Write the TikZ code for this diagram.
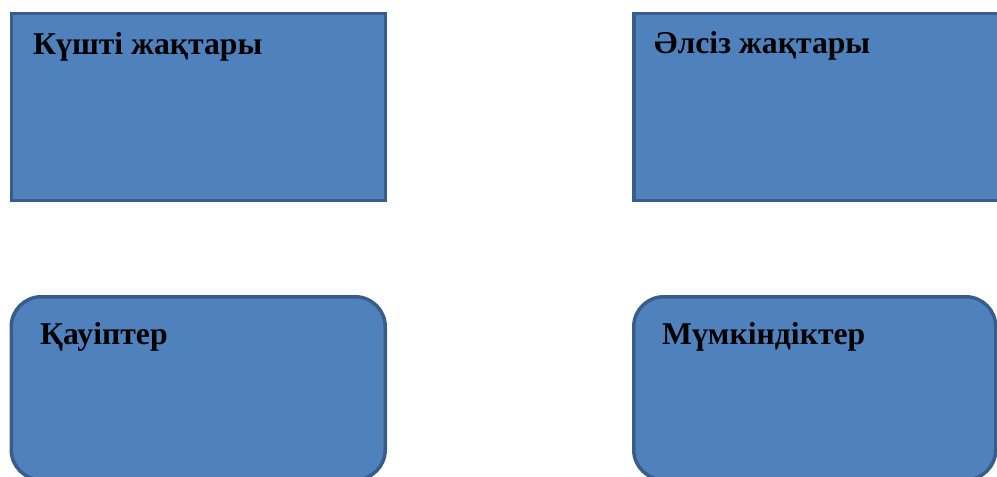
\documentclass[tikz,border=0pt]{standalone}
\usepackage{fontspec}
\setmainfont{Liberation Serif}
\usetikzlibrary{positioning,calc}
\definecolor{SwotFill}{RGB}{79,129,189}
\definecolor{SwotLine}{RGB}{56,93,138}
\tikzset{
    swotbox/.style={draw=SwotLine,fill=SwotFill,line width=3.5pt,inner sep=0pt,anchor=north west,minimum height=187pt},
    swotround/.style={swotbox,rounded corners=30pt,minimum height=183pt},
    swotlabel/.style={anchor=base west,inner sep=0pt,font=\fontsize{31.7}{36}\selectfont\bfseries}
}

\begin{document}
\begin{tikzpicture}[x=1pt,y=1pt]
            \useasboundingbox (0,0) rectangle (997,-477);
            % four boxes
            \node[swotbox,minimum width=374pt] (kusti) at (9.5,-11.5) {};
            \node[swotbox,minimum width=374pt] (alsiz) at (632,-11.5) {};
            \node[swotround,minimum width=374pt] (qauip) at (9.5,-295) {};
            \node[swotround,minimum width=362pt] (mumkin) at (632,-295) {};
            % titles
            \node[swotlabel] (kustiT) at ($(kusti.north west)+(23.5,-43)$) {Күшті жақтары};
            \node[swotlabel] (alsizT) at ($(alsiz.north west)+(22,-41.5)$) {Әлсіз жақтары};
            \node[swotlabel] (qauipT) at ($(qauip.north west)+(30.5,-49)$) {Қауіптер};
            \node[swotlabel] (mumkinT) at ($(mumkin.north west)+(30,-49)$) {Мүмкіндіктер};
        \end{tikzpicture}
\end{document}
